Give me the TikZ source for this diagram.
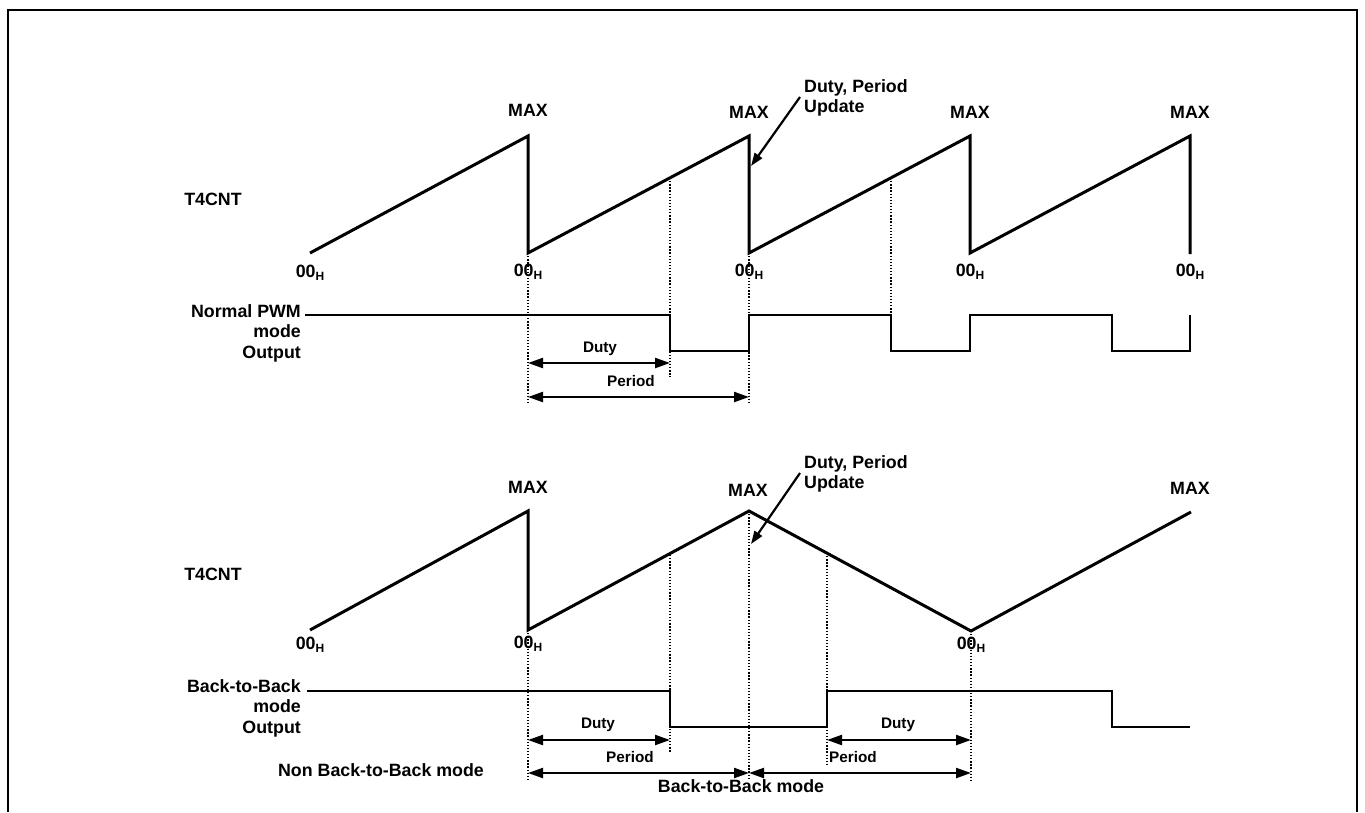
\documentclass[tikz,border=0pt]{standalone}
\usepackage{fontspec}
\setmainfont{Liberation Sans}
\usetikzlibrary{arrows.meta}
\newcommand{\zeroH}{00\raisebox{-3pt}{\fontsize{12}{12}\selectfont H}}
\begin{document}
\begin{tikzpicture}[x=1pt,y=-1pt,
 wave/.style={line width=3pt},
 outp/.style={line width=2.7pt},
 dotl/.style={line width=1.4pt, dash pattern=on 1.3pt off 1.8pt},
 dim/.style={line width=2.2pt, {Triangle[length=15pt,width=10pt]}-{Triangle[length=15pt,width=10pt]}},
 ptr/.style={line width=2.2pt, -{Triangle[length=13pt,width=9pt]}},
 lbl/.style={font=\fontsize{17.8}{20.5}\selectfont\bfseries, inner sep=0pt},
 sm/.style={font=\fontsize{15.3}{18}\selectfont\bfseries, inner sep=0pt},
 frame/.style={line width=2.4pt}]
\useasboundingbox (0,0) rectangle (1365,812);
% frame
\coordinate (F1) at (8,812); \coordinate (F2) at (8,10);
\coordinate (F3) at (1357,10); \coordinate (F4) at (1357,812);
\draw[frame] (F1) -- (F2) -- (F3) -- (F4);

% ================= TOP: Normal PWM =================
\coordinate (A0) at (310,253);
\coordinate (A1t) at (528,136); \coordinate (A1b) at (528,253);
\coordinate (A2t) at (749,136); \coordinate (A2b) at (749,253);
\coordinate (A3t) at (970,136); \coordinate (A3b) at (970,253);
\coordinate (A4t) at (1190,136); \coordinate (A4b) at (1190,254);
\draw[wave] (A0) -- (A1t) -- (A1b) -- (A2t) -- (A2b) -- (A3t) -- (A3b) -- (A4t) -- (A4b);
\coordinate (Ad1) at (670,178); \coordinate (Ad2) at (891,178);

\node[lbl] (T1) at (213,199) {T4CNT};
\node[lbl] (Mx1) at (528,110) {MAX};
\node[lbl] (Mx2) at (749,112) {MAX};
\node[lbl] (Mx3) at (970,112) {MAX};
\node[lbl] (Mx4) at (1190,112) {MAX};
\node[lbl] (Z0) at (310,273) {\zeroH};
\node[lbl] (Z1) at (528,272) {\zeroH};
\node[lbl] (Z2) at (749,272) {\zeroH};
\node[lbl] (Z3) at (970,272) {\zeroH};
\node[lbl] (Z4) at (1190,272) {\zeroH};
\node[lbl, align=left, anchor=west] (U1) at (804,98) {Duty, Period\\Update};
\coordinate (U1s) at (800,97); \coordinate (U1e) at (751,166);
\draw[ptr] (U1s) -- (U1e);

\node[lbl, align=right, anchor=east] (N1) at (301,333) {Normal PWM\\mode\\Output};
\coordinate (O0) at (305,315);
\coordinate (O1) at (670,315); \coordinate (O2) at (670,351);
\coordinate (O3) at (749,351); \coordinate (O4) at (749,315);
\coordinate (O5) at (891,315); \coordinate (O6) at (891,351);
\coordinate (O7) at (970,351); \coordinate (O8) at (970,315);
\coordinate (O9) at (1112,315); \coordinate (O10) at (1112,351);
\coordinate (O11) at (1190,351); \coordinate (O12) at (1190,315);
\draw[outp] (O0) -- (O1) -- (O2) -- (O3) -- (O4) -- (O5) -- (O6) -- (O7) -- (O8) -- (O9) -- (O10) -- (O11) -- (O12);

\coordinate (D1e) at (528,403); \coordinate (D2e) at (670,377);
\coordinate (D3e) at (749,403); \coordinate (D4e) at (891,315);
\draw[dotl] (A1b) -- (D1e);
\draw[dotl] (Ad1) -- (D2e);
\draw[dotl] (A2b) -- (D3e);
\draw[dotl] (Ad2) -- (D4e);

\coordinate (P1a) at (528,363); \coordinate (P1b) at (670,363);
\coordinate (P2a) at (528,397); \coordinate (P2b) at (749,397);
\draw[dim] (P1a) -- (P1b);
\draw[dim] (P2a) -- (P2b);
\node[sm] (Du1) at (600,349) {Duty};
\node[sm] (Pe1) at (631,381) {Period};

% ================= BOTTOM: Back-to-Back =================
\coordinate (B0) at (310,630);
\coordinate (B1t) at (528,511); \coordinate (B1b) at (528,630);
\coordinate (B2t) at (749,511);
\coordinate (B3b) at (971,631);
\coordinate (B4) at (1191,512);
\draw[wave] (B0) -- (B1t) -- (B1b) -- (B2t) -- (B3b) -- (B4);
\coordinate (Bd1) at (670,555); \coordinate (Bd2) at (827,553);

\node[lbl] (T2) at (213,574) {T4CNT};
\node[lbl] (My1) at (528,487) {MAX};
\node[lbl] (My2) at (748,490) {MAX};
\node[lbl] (My3) at (1190,488) {MAX};
\node[lbl] (Y0) at (310,645) {\zeroH};
\node[lbl] (Y1) at (528,644) {\zeroH};
\node[lbl] (Y3) at (971,645) {\zeroH};
\node[lbl, align=left, anchor=west] (U2) at (804,474) {Duty, Period\\Update};
\coordinate (U2s) at (800,473); \coordinate (U2e) at (751,544);
\draw[ptr] (U2s) -- (U2e);

\node[lbl, align=right, anchor=east] (N2) at (301,708) {Back-to-Back\\mode\\Output};
\coordinate (Q0) at (307,691);
\coordinate (Q1) at (670,691); \coordinate (Q2) at (670,727);
\coordinate (Q3) at (827,727); \coordinate (Q4) at (827,691);
\coordinate (Q5) at (1112,691); \coordinate (Q6) at (1112,727);
\coordinate (Q7) at (1190,727);
\draw[outp] (Q0) -- (Q1) -- (Q2) -- (Q3) -- (Q4) -- (Q5) -- (Q6) -- (Q7);

\coordinate (E1e) at (528,780); \coordinate (E2e) at (670,753);
\coordinate (E3e) at (749,780); \coordinate (E4e) at (827,765);
\coordinate (E5e) at (971,780);
\draw[dotl] (B1b) -- (E1e);
\draw[dotl] (Bd1) -- (E2e);
\draw[dotl] (B2t) -- (E3e);
\draw[dotl] (Bd2) -- (E4e);
\draw[dotl] (B3b) -- (E5e);

\coordinate (R1a) at (528,740); \coordinate (R1b) at (670,740);
\coordinate (R2a) at (827,740); \coordinate (R2b) at (971,740);
\coordinate (R3a) at (528,773); \coordinate (R3b) at (749,773);
\coordinate (R4b) at (971,773);
\draw[dim] (R1a) -- (R1b);
\draw[dim] (R2a) -- (R2b);
\draw[dim] (R3a) -- (R3b);
\draw[dim] (R3b) -- (R4b);
\node[sm] (Du2) at (598,725) {Duty};
\node[sm] (Du3) at (898,725) {Duty};
\node[sm] (Pe2) at (630,757) {Period};
\node[sm, anchor=west] (Pe3) at (829,757) {Period};
\node[lbl] (NB) at (381,770) {Non Back-to-Back mode};
\node[lbl] (BB) at (741,786) {Back-to-Back mode};
\end{tikzpicture}
\end{document}
